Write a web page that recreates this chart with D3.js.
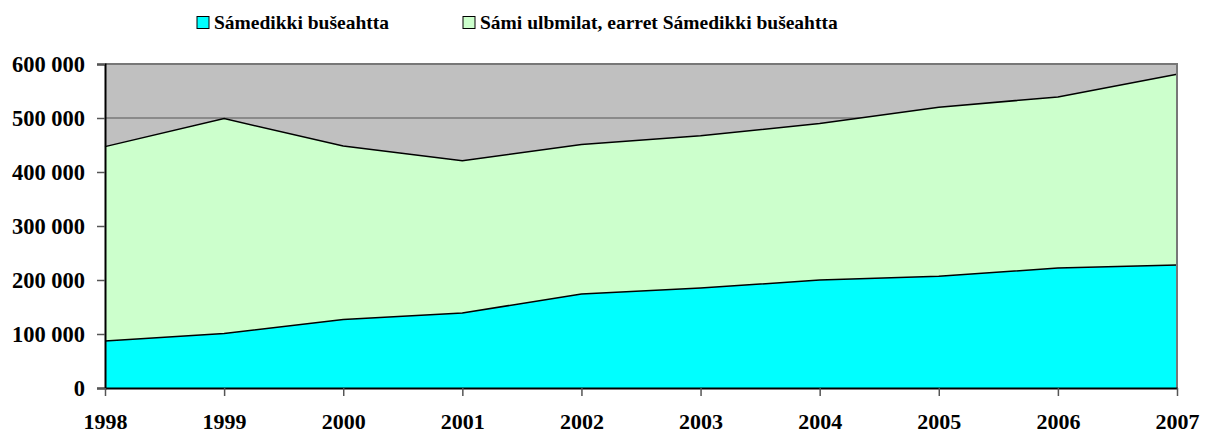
<!DOCTYPE html>
<html><head><meta charset="utf-8">
<script src="https://cdn.jsdelivr.net/npm/d3@7"></script>
<style>body{margin:0;background:#fff}svg{display:block}</style>
</head><body>
<svg id="c" width="1207" height="435"></svg>
<script>
const years = ["1998","1999","2000","2001","2002","2003","2004","2005","2006","2007"];
const samedikki = [87000, 101000, 127000, 139000, 174000, 185000, 200000, 207000, 222000, 228000];
const eara = [360000, 398000, 321000, 282000, 277000, 282000, 290000, 313000, 317000, 353000];
const yTicks = [0, 100000, 200000, 300000, 400000, 500000, 600000];
const seriesNames = ["Sámedikki bušeahtta", "Sámi ulbmilat, earret Sámedikki bušeahtta"];
const colors = ["#00FFFF", "#CCFFCC"];

const svg = d3.select("#c");
const L = 105, R = 1177, T = 64, B = 388;
const x = d3.scalePoint().domain(years).range([L, R]);
const y = d3.scaleLinear().domain([0, 600000]).range([B, T]);
const font = "'Liberation Serif', 'Times New Roman', serif";

svg.append("rect").attr("x", L).attr("y", T).attr("width", R - L).attr("height", B - T).attr("fill", "#C0C0C0");
svg.append("g").selectAll("line").data(yTicks.slice(1)).join("line")
  .attr("x1", L).attr("x2", R).attr("y1", d => y(d)).attr("y2", d => y(d))
  .attr("stroke", "#555").attr("stroke-width", 1.2);

const data = years.map((yr, i) => ({year: yr, s0: samedikki[i], s1: eara[i]}));
const stacked = d3.stack().keys(["s0", "s1"])(data);
const area = d3.area().x(d => x(d.data.year)).y0(d => y(d[0])).y1(d => y(d[1]));
const line = d3.line().x(d => x(d.data.year)).y(d => y(d[1]));

svg.append("g").selectAll("path").data(stacked).join("path")
  .attr("d", area).attr("fill", (d, i) => colors[i]);
svg.append("g").selectAll("path").data(stacked).join("path")
  .attr("d", line).attr("fill", "none").attr("stroke", "#000").attr("stroke-width", 1.5);

svg.append("path").attr("d", `M${L},${T}H${R}V${B}`).attr("fill", "none").attr("stroke", "#777").attr("stroke-width", 2);

const yAxis = d3.axisLeft(y).tickValues(yTicks).tickSize(8).tickPadding(12)
  .tickFormat(d => d3.format(",")(d).replace(/,/g, " "));
const gy = svg.append("g").attr("transform", `translate(${L},0)`).call(yAxis);
gy.select(".domain").attr("stroke", "#000").attr("stroke-width", 2);
gy.selectAll(".tick line").attr("stroke", "#555").attr("stroke-width", 1.5);
gy.selectAll("text").attr("font-family", font).attr("font-weight", "bold").attr("font-size", 22.5).attr("fill", "#000");

const xAxis = d3.axisBottom(x).tickSize(8).tickPadding(17).tickSizeOuter(0);
const gx = svg.append("g").attr("transform", `translate(0,${B})`).call(xAxis);
gx.select(".domain").attr("stroke", "#000").attr("stroke-width", 2);
gx.selectAll(".tick line").attr("stroke", "#555").attr("stroke-width", 1.5);
gx.selectAll("text").attr("font-family", font).attr("font-weight", "bold").attr("font-size", 22).attr("fill", "#000");

const legX = [197, 463];
const lg = svg.append("g");
seriesNames.forEach((n, i) => {
  lg.append("rect").attr("x", legX[i]).attr("y", 16.5).attr("width", 12).attr("height", 12)
    .attr("fill", colors[i]).attr("stroke", "#000").attr("stroke-width", 1);
  lg.append("text").attr("x", legX[i] + 17).attr("y", 29).text(n)
    .attr("font-family", font).attr("font-weight", "bold").attr("font-size", 19.5).attr("fill", "#000");
});
</script>
</body></html>
